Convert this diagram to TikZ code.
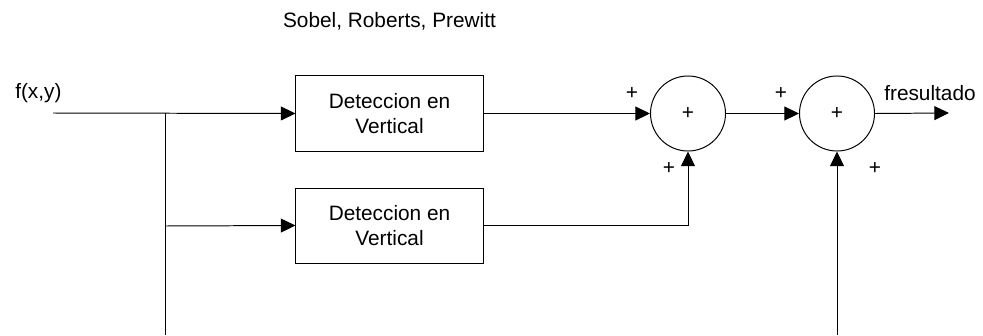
\documentclass[tikz,border=0pt]{standalone}
\usepackage{fontspec}
\setmainfont{Liberation Sans}
\usetikzlibrary{arrows.meta}
\usetikzlibrary{calc}

\tikzset{
	bloque/.style={draw, line width=0.7pt, minimum width=4.675cm, minimum height=1.875cm, align=center, inner sep=0pt},
	sumador/.style={draw, circle, line width=0.7pt, minimum size=1.875cm, inner sep=0pt},
	flecha/.style={line width=0.7pt, -{Triangle[length=10.4pt, width=9.9pt]}},
	linea/.style={line width=0.7pt}
}

\begin{document}
\begin{tikzpicture}[x=0.025cm, y=-0.025cm, font=\fontsize{14.8}{18.4}\selectfont]
		 	\useasboundingbox (0,0) rectangle (983,335);
		 	
		 	\node[anchor=base] (titulo) at (389.5,27) {Sobel, Roberts, Prewitt};
		 	\node[anchor=base west, inner sep=0pt] (entrada) at (15,98) {f(x,y)};
		 	
		 	\coordinate (fin) at (53,113);
		 	\coordinate (rama) at (165,113);
		 	\coordinate (rama2) at (165,226);
		 	\coordinate (abajo1) at (165,335);
		 	\coordinate (abajo2) at (837,335);
		 	\coordinate (fout) at (949,113);
		 	
		 	\node[bloque] (det1) at (389.5,113.5) {Deteccion en\\Vertical};
		 	\node[bloque] (det2) at (389.5,225.5) {Deteccion en\\Vertical};
		 	\node[sumador] (sum1) at (688,113.5) {+};
		 	\node[sumador] (sum2) at (837,113.5) {+};
		 	
		 	\draw[flecha] (fin) -- (det1.west);
		 	\draw[linea] (rama) -- (abajo1);
		 	\draw[flecha] (rama2) -- (det2.west);
		 	\draw[flecha] (det1.east) -- (sum1.west);
		 	\draw[flecha] (det2.east) -| (sum1.south);
		 	\draw[flecha] (sum1.east) -- (sum2.west);
		 	\draw[flecha] (sum2.east) -- (fout);
		 	\draw[flecha] (abajo2) -- (sum2.south);
		 	
		 	\node[anchor=base west, inner sep=0pt] (salida) at (884,100) {fresultado};
		 	\node (mas1) at (632,93) {+};
		 	\node (mas2) at (669,168) {+};
		 	\node (mas3) at (781,93) {+};
		 	\node (mas4) at (875,168) {+};
		 \end{tikzpicture}
\end{document}
